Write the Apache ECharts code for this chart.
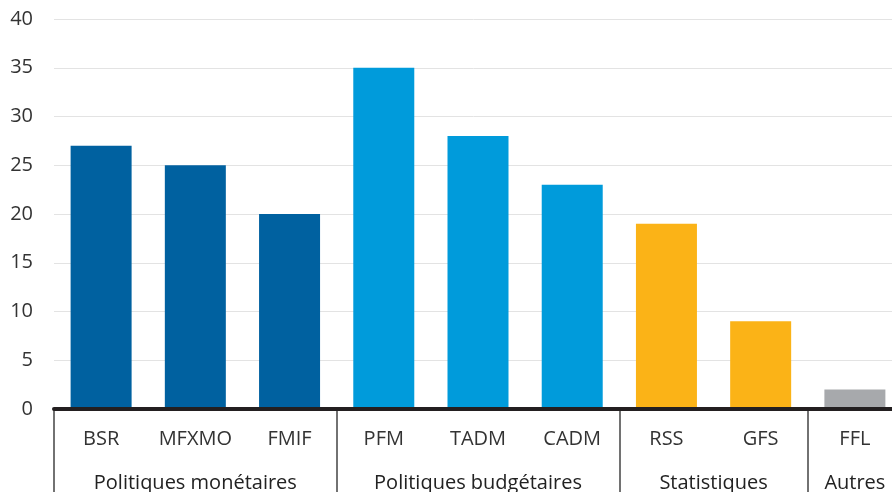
<!DOCTYPE html>
<html><head><meta charset="utf-8">
<script src="https://cdn.jsdelivr.net/npm/echarts@6/dist/echarts.min.js"></script>
<style>html,body{margin:0;padding:0;background:#fff}#c{width:892px;height:492px}</style>
</head><body><div id="c"></div>
<script>
const categories = ["BSR","MFXMO","FMIF","PFM","TADM","CADM","RSS","GFS","FFL"];
const values = [27,25,20,35,28,23,19,9,2];
const groupOfCategory = [0,0,0,1,1,1,2,2,3];
const groupNames = ["Politiques monétaires","Politiques budgétaires","Statistiques","Autres"];
const groupBoundaries = [0,3,6,8];
const groupCenters = [1.5,4.5,7,8.5];
const yTicks = [0,5,10,15,20,25,30,35,40];
const groupColors = ["#0061a0","#009bdb","#fbb317","#a7a9ac"];

const font = "Open Sans";
const chart = echarts.init(document.getElementById('c'));
chart.setOption({
  animation:false,
  grid:{left:54, top:19, bottom:83, width:848, outerBoundsMode:'none'},
  xAxis:[{
    type:'category', data:categories, position:'bottom',
    axisLine:{show:true, lineStyle:{color:'#231f20', width:4}},
    axisTick:{show:false},
    axisLabel:{color:'#333', fontSize:20, fontFamily:font, margin:20, interval:0, hideOverlap:false},
    z:10
  },{
    type:'value', min:0, max:categories.length, position:'bottom',
    axisLine:{show:false},
    splitLine:{show:false},
    axisTick:{show:true, customValues:groupBoundaries, length:84, lineStyle:{color:'#444', width:1.5}},
    axisLabel:{customValues:groupCenters, color:'#222', fontSize:20, fontFamily:font, margin:64,
      formatter:function(v){ const i = groupCenters.indexOf(v); return i>=0 ? groupNames[i] : ''; }}
  }],
  yAxis:{
    type:'value', min:yTicks[0], max:yTicks[yTicks.length-1], interval:5,
    axisLine:{show:false}, axisTick:{show:false},
    axisLabel:{color:'#333', fontSize:20, fontFamily:font, margin:21},
    splitLine:{lineStyle:{color:'#e3e3e3', width:1}}
  },
  series:[{
    type:'bar', xAxisIndex:0, barWidth:61,
    data:values.map((v,i)=>({value:v, itemStyle:{color:groupColors[groupOfCategory[i]]}}))
  }]
});
</script></body></html>
